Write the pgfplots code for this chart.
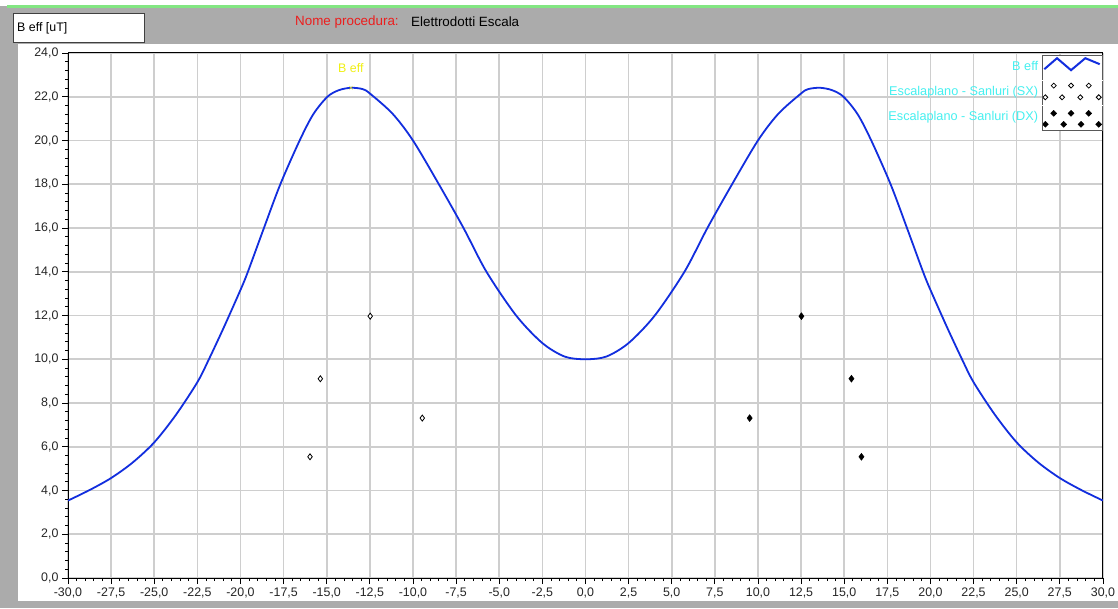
\documentclass[border=0pt]{standalone}
\usepackage{fontspec}
\setmainfont{Liberation Sans}
\usepackage{pgfplots}
\usepackage{pgfplotstable}
\pgfplotsset{compat=1.18}

\definecolor{panelgray}{RGB}{171,171,171}
\definecolor{topgreen}{RGB}{130,230,130}
\definecolor{gridc}{RGB}{206,206,206}
\definecolor{curveblue}{RGB}{18,46,222}
\definecolor{legcyan}{RGB}{70,240,240}
\definecolor{peakyellow}{RGB}{240,240,20}
\definecolor{titlered}{RGB}{235,30,30}

\newcommand{\tf}{\fontsize{12.4}{14}\selectfont}
% small diamonds for the legend swatches
\newcommand{\odia}[2]{\filldraw[fill=white,draw=black,line width=0.8pt] (#1-2.5,#2) -- (#1,#2+2.5) -- (#1+2.5,#2) -- (#1,#2-2.5) -- cycle;}
\newcommand{\fdia}[2]{\fill[black] (#1-3,#2) -- (#1,#2+3) -- (#1+3,#2) -- (#1,#2-3) -- cycle;}

% B eff (symmetric about 0)
\pgfplotstableread{
x y
-30 3.54
-28.75 4.02
-27.5 4.57
-26.25 5.28
-25 6.20
-23.75 7.45
-22.5 8.95
-21.83 10.00
-20.97 11.45
-20 13.17
-19.57 14.00
-18.64 16.00
-17.69 18.00
-16.57 20.00
-15.78 21.20
-14.96 22.00
-14.3 22.30
-13.6 22.41
-12.92 22.35
-12.5 22.15
-11.18 21.22
-10 20.00
-8.5 18.00
-7.07 16.00
-5.74 14.00
-4.02 12.00
-2.5 10.74
-1.2 10.12
0 10.00
1.2 10.12
2.5 10.74
4.02 12.00
5.74 14.00
7.07 16.00
8.5 18.00
10 20.00
11.18 21.22
12.5 22.15
12.92 22.35
13.6 22.41
14.3 22.30
14.96 22.00
15.78 21.20
16.57 20.00
17.69 18.00
18.64 16.00
19.57 14.00
20 13.17
20.97 11.45
21.83 10.00
22.5 8.95
23.75 7.45
25 6.20
26.25 5.28
27.5 4.57
28.75 4.02
30 3.54
}\beff

\begin{document}
\begin{tikzpicture}[x=1pt,y=1pt]
\useasboundingbox (0,0) rectangle (1118,608);
\fill[panelgray] (0,0) rectangle (1118,608);
\fill[white] (0,602) rectangle (1118,608);
\fill[topgreen] (7,600) rectangle (1118,602.5);
\fill[white] (17.5,7) rectangle (1118,563.5);
\draw[fill=white,draw=black!75,line width=1pt] (13,565) rectangle (144.5,594);
\node[anchor=west,font=\tf,inner sep=0pt] at (17,580) {B eff [uT]};
\node[anchor=west,font=\fontsize{13.4}{15}\selectfont,text=titlered,inner sep=0pt] at (295,586) {Nome procedura:};
\node[anchor=west,font=\fontsize{13.4}{15}\selectfont,inner sep=0pt] at (411,586) {Elettrodotti Escala};

\begin{axis}[
  at={(68pt,30pt)}, anchor=south west,
  scale only axis, width=1035pt, height=525pt,
  xmin=-30, xmax=30, ymin=0, ymax=24,
  xtick distance=2.5, ytick distance=2,
  minor x tick num=4, minor y tick num=4,
  grid=major, major grid style={gridc, line width=1.6pt},
  tick pos=left, tick align=outside,
  major tick length=6pt, minor tick length=3pt,
  every tick/.style={black, line width=0.8pt},
  axis line style={black, line width=1pt},
  tick label style={font=\tf, text=black!85},
  /pgf/number format/.cd, fixed, fixed zerofill, precision=1, use comma, assume math mode=true,
  /pgfplots/.cd,
  legend style={at={(1,0.9962)}, anchor=north east, draw=none, fill=none,
    inner sep=0pt, outer sep=0pt, row sep=0pt, column sep=3pt,
    nodes={inner sep=0pt, text=legcyan, font=\fontsize{12.7}{14}\selectfont}},
  legend cell align=right, legend plot pos=right,
]
\addplot[curveblue, line width=1.8pt, smooth,
  legend image code/.code={
    \fill[white] (0pt,-13.5pt) rectangle (60pt,10.5pt);
    \draw[black!65,line width=1pt] (0pt,-13.5pt) -- (0pt,10.5pt) -- (60pt,10.5pt) -- (60pt,-13.5pt);
    \draw[curveblue,line width=2pt] (2.3pt,-2.8pt) -- (15pt,8.2pt) -- (29pt,-3.8pt) -- (43.3pt,8.2pt) -- (57.7pt,2.2pt);
  }] table {\beff};
\addlegendentry{B eff}

\addplot[only marks, mark=diamond*, mark size=3pt,
  mark options={fill=white, draw=black, line width=0.8pt},
  legend image code/.code={
    \fill[white] (0pt,-13.5pt) rectangle (60pt,10.5pt);
    \begin{scope}[x=1pt,y=1pt]
    \odia{11.7}{6.2}\odia{29}{6.2}\odia{46.7}{6.2}
    \odia{3.3}{-5.5}\odia{20}{-5.5}\odia{38.3}{-5.5}\odia{56.7}{-5.5}
    \end{scope}
    \draw[black!65,line width=1pt] (0pt,-13.5pt) -- (0pt,10.5pt) (60pt,10.5pt) -- (60pt,-13.5pt);
  }] coordinates {(-12.48,11.97) (-15.37,9.11) (-9.46,7.31) (-15.97,5.54)};
\addlegendentry{Escalaplano - Sanluri (SX)}

\addplot[only marks, mark=diamond*, mark size=3.5pt, black,
  legend image code/.code={
    \fill[white] (0pt,-13.5pt) rectangle (60pt,10.5pt);
    \begin{scope}[x=1pt,y=1pt]
    \fdia{11.7}{3.5}\fdia{29}{3.5}\fdia{46.7}{3.5}
    \fdia{3.3}{-7.5}\fdia{21.7}{-7.5}\fdia{39}{-7.5}\fdia{56.7}{-7.5}
    \end{scope}
    \draw[black!65,line width=1pt] (0pt,10.5pt) -- (0pt,-13.5pt) -- (60pt,-13.5pt) -- (60pt,10.5pt);
  }] coordinates {(12.52,11.97) (15.42,9.11) (9.52,7.31) (16.0,5.54)};
\addlegendentry{Escalaplano - Sanluri (DX)}

\addplot[forget plot, only marks, peakyellow, mark=x, mark size=2.5pt,
  nodes near coords={B eff},
  every node near coord/.append style={anchor=center, yshift=19.5pt, text=peakyellow, font=\tf}]
  coordinates {(-13.6,22.41)};
\end{axis}
\end{tikzpicture}
\end{document}
